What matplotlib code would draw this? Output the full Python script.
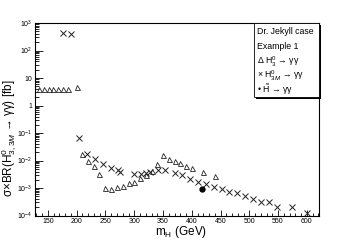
import numpy as np
import matplotlib
matplotlib.use('Agg')
import matplotlib.pyplot as plt
from matplotlib.patches import Rectangle
from matplotlib.ticker import FixedLocator, LogLocator, NullFormatter

plt.rcParams['font.family'] = ['Liberation Sans', 'DejaVu Sans']
plt.rcParams['mathtext.fontset'] = 'custom'
plt.rcParams['mathtext.rm'] = 'Liberation Sans'
plt.rcParams['mathtext.it'] = 'Liberation Sans:italic'

# H0_3 -> gamma gamma (triangles)
tri_m = [134, 143, 151, 159, 168, 176, 185, 200, 210, 220, 230, 239,
         250, 260, 270, 280, 290, 300, 310, 320, 330, 340, 350, 360,
         370, 380, 390, 400, 420, 440]
tri_s = [4.1, 4.1, 4.1, 4.1, 4.1, 4.1, 4.1, 4.8, 0.0174, 0.0093, 0.0061, 0.0032,
         0.00104, 0.00096, 0.00108, 0.00123, 0.00151, 0.00173, 0.0023, 0.0030,
         0.0042, 0.0076, 0.0163, 0.0116, 0.0098, 0.0081, 0.0066, 0.0053,
         0.0038, 0.0028]

# H0_3M -> gamma gamma (crosses)
crs_m = [176, 190, 204, 218, 232, 246, 260, 272, 276, 300, 311, 320, 327,
         341, 354, 370, 383, 397, 410, 424, 439, 452, 465, 479, 493, 507,
         520, 535, 548, 574, 601]
crs_s = [450, 390, 0.066, 0.0167, 0.0117, 0.0075, 0.0055, 0.0046, 0.0039,
         0.0033, 0.0033, 0.0035, 0.0040, 0.0044, 0.0046, 0.0035, 0.0029,
         0.00217, 0.00173, 0.00142, 0.00114, 0.00091, 0.00074, 0.00065,
         0.00052, 0.00040, 0.00032, 0.00032, 0.00020, 0.00020, 0.000128]

# H~ -> gamma gamma (dot)
dot_m = [417]
dot_s = [0.00093]

legend_lines = ['Dr. Jekyll case', 'Example 1',
                r'Δ H$^0_3$ → γγ',
                r'× H$^0_{3M}$ → γγ',
                r'• $\tilde{\mathrm{H}}$ → γγ']

fig = plt.figure(figsize=(3.55, 2.4), dpi=100)
ax = fig.add_axes([0.0986, 0.1017, 0.8, 0.8023])

ax.plot(tri_m, tri_s, '^', ms=3.6, mfc='none', mec='#222222', mew=0.6, ls='none')
ax.plot(crs_m, crs_s, 'x', ms=3.8, mec='#222222', mew=0.7, ls='none')
ax.plot(dot_m, dot_s, 'o', ms=3.5, color='black', ls='none')

ax.set_yscale('log')
ax.set_xlim(127.4, 621.3)
ax.set_ylim(1e-4, 1e3)

ax.xaxis.set_major_locator(FixedLocator([150, 200, 250, 300, 350, 400, 450, 500, 550, 600]))
ax.xaxis.set_minor_locator(FixedLocator(np.arange(130, 621, 10)))
ax.yaxis.set_major_locator(FixedLocator([1e-4, 1e-3, 1e-2, 1e-1, 1, 10, 1e2, 1e3]))
ax.yaxis.set_minor_locator(LogLocator(base=10, subs=np.arange(2, 10), numticks=20))
ax.yaxis.set_minor_formatter(NullFormatter())
ax.set_yticklabels([r'10$^{-4}$', r'10$^{-3}$', r'10$^{-2}$', r'10$^{-1}$',
                    '1', '10', r'10$^{2}$', r'10$^{3}$'])

ax.tick_params(which='both', direction='in', top=False, right=False, labelsize=5, width=0.6)
ax.tick_params(axis='y', which='major', length=5.5, pad=2)
ax.tick_params(axis='y', which='minor', length=3)
ax.tick_params(axis='x', which='major', length=4.5, pad=2)
ax.tick_params(axis='x', which='minor', length=2.2)
for s in ax.spines.values():
    s.set_linewidth(0.8)

ax.set_xlabel(r'm$_{\mathrm{H}}$ (GeV)', fontsize=8.5)
ax.xaxis.set_label_coords(0.515, -0.045)
ax.set_ylabel(r'σ×BR(H$^0_{3,3M}$ → γγ) [fb]', fontsize=8.5)
ax.yaxis.set_label_coords(-0.058, 0.4)

# legend box with shadow
bx, by, bw, bh = 0.771, 0.616, 0.229, 0.384
ax.add_patch(Rectangle((bx + 0.008, by - 0.012), bw, bh, transform=ax.transAxes,
                       facecolor='black', edgecolor='none', clip_on=False, zorder=4))
ax.add_patch(Rectangle((bx, by), bw, bh, transform=ax.transAxes,
                       facecolor='white', edgecolor='black', lw=0.6, clip_on=False, zorder=5))
ys = [0.955, 0.878, 0.80, 0.728, 0.655]
for t, yy in zip(legend_lines, ys):
    ax.text(bx + 0.01, yy, t, transform=ax.transAxes, fontsize=6.3,
            va='center', ha='left', zorder=6)

plt.savefig('out.png', dpi=100)
